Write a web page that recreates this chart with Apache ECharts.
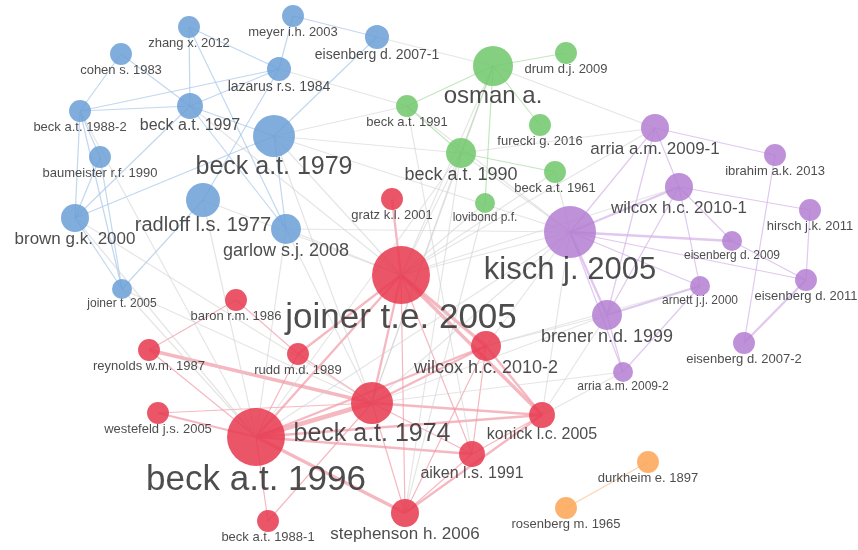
<!DOCTYPE html>
<html>
<head>
<meta charset="utf-8">
<title>co-citation network</title>
<script src="https://cdn.jsdelivr.net/npm/echarts@6.0.0/dist/echarts.min.js"></script>
<style>
html, body { margin: 0; padding: 0; background: #fff; }
#chart { width: 858px; height: 550px; }
</style>
</head>
<body>
<div id="chart"></div>
<script>
// nodes (map coordinates, citation weight, cluster)
var names = [
  'meyer i.h. 2003', 'eisenberg d. 2007-1', 'zhang x. 2012', 'cohen s. 1983', 'lazarus r.s. 1984',
  'beck a.t. 1988-2', 'beck a.t. 1997', 'beck a.t. 1979', 'baumeister r.f. 1990', 'radloff l.s. 1977',
  'brown g.k. 2000', 'garlow s.j. 2008', 'joiner t. 2005',
  'osman a.', 'drum d.j. 2009', 'beck a.t. 1991', 'furecki g. 2016', 'beck a.t. 1990', 'beck a.t. 1961', 'lovibond p.f.',
  'arria a.m. 2009-1', 'ibrahim a.k. 2013', 'wilcox h.c. 2010-1', 'hirsch j.k. 2011', 'kisch j. 2005',
  'eisenberg d. 2009', 'eisenberg d. 2011', 'arnett j.j. 2000', 'brener n.d. 1999', 'eisenberg d. 2007-2', 'arria a.m. 2009-2',
  'gratz k.l. 2001', 'joiner t.e. 2005', 'baron r.m. 1986', 'reynolds w.m. 1987', 'rudd m.d. 1989',
  'wilcox h.c. 2010-2', 'beck a.t. 1974', 'konick l.c. 2005', 'westefeld j.s. 2005', 'beck a.t. 1996',
  'aiken l.s. 1991', 'stephenson h. 2006', 'beck a.t. 1988-1',
  'durkheim e. 1897', 'rosenberg m. 1965'
];
var xs = [
  293, 377, 189, 121, 279,
  80, 190, 274, 100, 203,
  75, 286, 122,
  493, 566, 407, 540, 461, 555, 485,
  655, 775, 679, 810, 570,
  732, 806, 700, 607, 744, 623,
  392, 401, 236, 149, 298,
  486, 372, 542, 158, 256,
  472, 405, 268,
  648, 566
];
var ys = [
  16, 37, 27, 54, 69,
  111, 106, 136, 157, 200,
  218, 229, 289,
  66, 53, 106, 125, 153, 172, 203,
  128, 155, 187, 210, 232,
  241, 280, 286, 315, 343, 372,
  199, 275, 300, 350, 354,
  346, 403, 415, 413, 437,
  454, 513, 521,
  462, 508
];
var weights = [
  30, 36, 30, 30, 36,
  30, 42, 110, 30, 72,
  49, 56, 25,
  100, 30, 30, 30, 56, 30, 25,
  49, 30, 49, 30, 169,
  25, 30, 25, 56, 30, 25,
  30, 210, 30, 30, 30,
  56, 110, 42, 30, 210,
  42, 49, 30,
  30, 30
];
// 0 red, 1 blue, 2 green, 3 purple, 4 orange
var clusters = [
  1, 1, 1, 1, 1,
  1, 1, 1, 1, 1,
  1, 1, 1,
  2, 2, 2, 2, 2, 2, 2,
  3, 3, 3, 3, 3,
  3, 3, 3, 3, 3, 3,
  0, 0, 0, 0, 0,
  0, 0, 0, 0, 0,
  0, 0, 0,
  4, 4
];
// co-citation links: [source, target, strength]
var links = [
  ['meyer i.h. 2003', 'eisenberg d. 2007-1', 1], ['meyer i.h. 2003', 'lazarus r.s. 1984', 1],
  ['zhang x. 2012', 'lazarus r.s. 1984', 1], ['zhang x. 2012', 'beck a.t. 1997', 1],
  ['zhang x. 2012', 'garlow s.j. 2008', 1], ['cohen s. 1983', 'beck a.t. 1988-2', 1],
  ['cohen s. 1983', 'beck a.t. 1997', 1], ['beck a.t. 1988-2', 'beck a.t. 1997', 1],
  ['beck a.t. 1988-2', 'lazarus r.s. 1984', 1], ['beck a.t. 1988-2', 'baumeister r.f. 1990', 1],
  ['beck a.t. 1988-2', 'brown g.k. 2000', 1], ['baumeister r.f. 1990', 'brown g.k. 2000', 1],
  ['brown g.k. 2000', 'beck a.t. 1979', 1], ['brown g.k. 2000', 'joiner t. 2005', 1],
  ['brown g.k. 2000', 'beck a.t. 1997', 1], ['lazarus r.s. 1984', 'beck a.t. 1997', 1],
  ['lazarus r.s. 1984', 'radloff l.s. 1977', 1], ['eisenberg d. 2007-1', 'beck a.t. 1979', 1],
  ['beck a.t. 1997', 'garlow s.j. 2008', 1], ['beck a.t. 1979', 'garlow s.j. 2008', 1],
  ['radloff l.s. 1977', 'joiner t. 2005', 1], ['beck a.t. 1979', 'beck a.t. 1997', 1],
  ['beck a.t. 1988-2', 'joiner t. 2005', 1], ['baumeister r.f. 1990', 'joiner t. 2005', 1],
  ['osman a.', 'drum d.j. 2009', 1], ['osman a.', 'furecki g. 2016', 1],
  ['osman a.', 'lovibond p.f.', 1], ['osman a.', 'beck a.t. 1991', 1],
  ['beck a.t. 1991', 'beck a.t. 1990', 1], ['beck a.t. 1990', 'beck a.t. 1961', 1],
  ['osman a.', 'beck a.t. 1990', 1],
  ['arria a.m. 2009-1', 'ibrahim a.k. 2013', 1], ['arria a.m. 2009-1', 'wilcox h.c. 2010-1', 1],
  ['arria a.m. 2009-1', 'kisch j. 2005', 1], ['arria a.m. 2009-1', 'brener n.d. 1999', 1],
  ['ibrahim a.k. 2013', 'eisenberg d. 2007-2', 1], ['wilcox h.c. 2010-1', 'hirsch j.k. 2011', 1],
  ['wilcox h.c. 2010-1', 'kisch j. 2005', 2], ['wilcox h.c. 2010-1', 'eisenberg d. 2009', 1],
  ['wilcox h.c. 2010-1', 'brener n.d. 1999', 1], ['kisch j. 2005', 'eisenberg d. 2009', 2],
  ['kisch j. 2005', 'eisenberg d. 2011', 1], ['kisch j. 2005', 'arnett j.j. 2000', 1],
  ['kisch j. 2005', 'brener n.d. 1999', 2], ['kisch j. 2005', 'arria a.m. 2009-2', 1],
  ['brener n.d. 1999', 'arnett j.j. 2000', 2], ['brener n.d. 1999', 'arria a.m. 2009-2', 1],
  ['arnett j.j. 2000', 'arria a.m. 2009-2', 1], ['eisenberg d. 2011', 'eisenberg d. 2007-2', 2],
  ['hirsch j.k. 2011', 'eisenberg d. 2011', 1], ['eisenberg d. 2009', 'eisenberg d. 2011', 1],
  ['wilcox h.c. 2010-1', 'arnett j.j. 2000', 1],
  ['gratz k.l. 2001', 'joiner t.e. 2005', 2], ['joiner t.e. 2005', 'beck a.t. 1996', 2],
  ['joiner t.e. 2005', 'beck a.t. 1974', 2], ['joiner t.e. 2005', 'wilcox h.c. 2010-2', 3],
  ['joiner t.e. 2005', 'konick l.c. 2005', 3], ['joiner t.e. 2005', 'stephenson h. 2006', 1],
  ['joiner t.e. 2005', 'aiken l.s. 1991', 1], ['joiner t.e. 2005', 'rudd m.d. 1989', 2],
  ['baron r.m. 1986', 'reynolds w.m. 1987', 1], ['baron r.m. 1986', 'rudd m.d. 1989', 1],
  ['rudd m.d. 1989', 'beck a.t. 1974', 1], ['reynolds w.m. 1987', 'beck a.t. 1974', 3],
  ['reynolds w.m. 1987', 'beck a.t. 1996', 1], ['westefeld j.s. 2005', 'beck a.t. 1996', 2],
  ['westefeld j.s. 2005', 'beck a.t. 1974', 1], ['beck a.t. 1996', 'beck a.t. 1974', 4],
  ['beck a.t. 1996', 'wilcox h.c. 2010-2', 2], ['beck a.t. 1996', 'konick l.c. 2005', 2],
  ['beck a.t. 1996', 'stephenson h. 2006', 3], ['beck a.t. 1996', 'aiken l.s. 1991', 2],
  ['beck a.t. 1996', 'beck a.t. 1988-1', 1], ['beck a.t. 1996', 'rudd m.d. 1989', 1],
  ['beck a.t. 1974', 'wilcox h.c. 2010-2', 2], ['beck a.t. 1974', 'konick l.c. 2005', 2],
  ['beck a.t. 1974', 'aiken l.s. 1991', 1], ['beck a.t. 1974', 'stephenson h. 2006', 1],
  ['wilcox h.c. 2010-2', 'aiken l.s. 1991', 1], ['wilcox h.c. 2010-2', 'konick l.c. 2005', 2],
  ['wilcox h.c. 2010-2', 'stephenson h. 2006', 1], ['konick l.c. 2005', 'aiken l.s. 1991', 1],
  ['konick l.c. 2005', 'stephenson h. 2006', 2], ['aiken l.s. 1991', 'stephenson h. 2006', 1],
  ['durkheim e. 1897', 'rosenberg m. 1965', 1],
  ['beck a.t. 1979', 'beck a.t. 1991', 1], ['beck a.t. 1979', 'beck a.t. 1990', 1],
  ['beck a.t. 1979', 'joiner t.e. 2005', 1], ['beck a.t. 1979', 'kisch j. 2005', 1],
  ['garlow s.j. 2008', 'joiner t.e. 2005', 1], ['garlow s.j. 2008', 'kisch j. 2005', 1],
  ['garlow s.j. 2008', 'beck a.t. 1996', 1], ['radloff l.s. 1977', 'beck a.t. 1996', 1],
  ['radloff l.s. 1977', 'joiner t.e. 2005', 1], ['brown g.k. 2000', 'beck a.t. 1996', 1],
  ['brown g.k. 2000', 'beck a.t. 1974', 1], ['joiner t. 2005', 'beck a.t. 1996', 1],
  ['joiner t. 2005', 'beck a.t. 1974', 1], ['eisenberg d. 2007-1', 'osman a.', 1],
  ['osman a.', 'arria a.m. 2009-1', 1], ['lazarus r.s. 1984', 'beck a.t. 1991', 1],
  ['beck a.t. 1991', 'kisch j. 2005', 1], ['beck a.t. 1990', 'joiner t.e. 2005', 1],
  ['beck a.t. 1990', 'kisch j. 2005', 1], ['beck a.t. 1990', 'beck a.t. 1996', 1],
  ['beck a.t. 1990', 'beck a.t. 1974', 1], ['beck a.t. 1990', 'arria a.m. 2009-1', 1],
  ['beck a.t. 1961', 'kisch j. 2005', 1], ['lovibond p.f.', 'joiner t.e. 2005', 1],
  ['osman a.', 'joiner t.e. 2005', 1], ['osman a.', 'beck a.t. 1974', 1],
  ['kisch j. 2005', 'joiner t.e. 2005', 1], ['kisch j. 2005', 'beck a.t. 1974', 1],
  ['kisch j. 2005', 'wilcox h.c. 2010-2', 1], ['kisch j. 2005', 'konick l.c. 2005', 1],
  ['kisch j. 2005', 'beck a.t. 1996', 1], ['brener n.d. 1999', 'wilcox h.c. 2010-2', 1],
  ['brener n.d. 1999', 'konick l.c. 2005', 1], ['brener n.d. 1999', 'beck a.t. 1974', 1],
  ['arria a.m. 2009-2', 'konick l.c. 2005', 1], ['arria a.m. 2009-2', 'beck a.t. 1974', 1],
  ['wilcox h.c. 2010-1', 'joiner t.e. 2005', 1], ['beck a.t. 1988-2', 'beck a.t. 1996', 1],
  ['beck a.t. 1997', 'joiner t.e. 2005', 1], ['beck a.t. 1979', 'beck a.t. 1974', 1],
  ['beck a.t. 1990', 'stephenson h. 2006', 1], ['garlow s.j. 2008', 'beck a.t. 1974', 1],
  ['beck a.t. 1961', 'joiner t.e. 2005', 1], ['beck a.t. 1988-1', 'beck a.t. 1974', 1],
  ['arnett j.j. 2000', 'wilcox h.c. 2010-2', 1], ['lovibond p.f.', 'stephenson h. 2006', 1],
  ['beck a.t. 1991', 'aiken l.s. 1991', 1], ['arria a.m. 2009-1', 'joiner t.e. 2005', 1]
];

var nodeColors = ['#e8374d', '#6a9fd6', '#6fc86a', '#b37ed1', '#fca552'];
var linkColors = ['#f19aa6', '#a6c6e9', '#a9dca4', '#d3b0e7', '#fcc08c'];

var clusterOf = {};
names.forEach(function (n, i) { clusterOf[n] = clusters[i]; });

var nodes = names.map(function (n, i) {
  var size = Math.sqrt(weights[i]) * 4;
  return {
    name: n,
    value: [xs[i], ys[i]],
    symbolSize: size,
    itemStyle: { color: nodeColors[clusters[i]], opacity: 0.85 },
    label: {
      fontSize: Math.round(Math.max(10, size / 2) * 1.2),
      distance: -size * 0.05
    }
  };
});

var edges = links.map(function (l) {
  var a = clusterOf[l[0]], b = clusterOf[l[1]];
  var same = a === b;
  return {
    source: l[0],
    target: l[1],
    lineStyle: {
      color: same ? linkColors[a] : '#cfcfcf',
      width: 1.2 + (l[2] - 1) * 1.1,
      opacity: same ? 0.7 : 0.55
    }
  };
});

var chart = echarts.init(document.getElementById('chart'));
chart.setOption({
  backgroundColor: '#ffffff',
  animation: false,
  grid: { left: 0, right: 0, top: 0, bottom: 0 },
  xAxis: { type: 'value', min: 0, max: 858, show: false },
  yAxis: { type: 'value', min: 0, max: 550, inverse: true, show: false },
  series: [{
    type: 'graph',
    coordinateSystem: 'cartesian2d',
    symbol: 'circle',
    data: nodes,
    links: edges,
    label: {
      show: true,
      position: 'bottom',
      color: '#2e2e2e',
      fontFamily: 'Liberation Sans, Arial, sans-serif',
      formatter: '{b}'
    },
    emphasis: { disabled: true }
  }]
});
</script>
</body>
</html>
